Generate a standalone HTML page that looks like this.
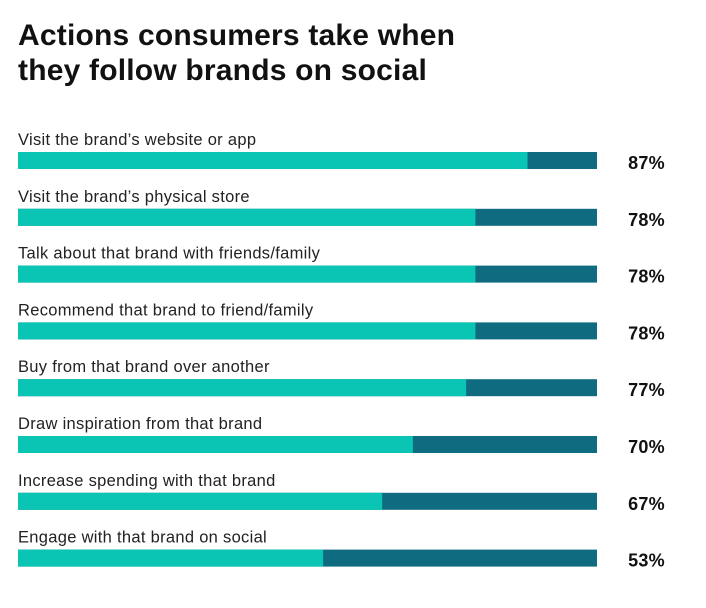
<!DOCTYPE html>
<html><head><meta charset="utf-8"><style>
body{margin:0;background:#fff;width:706px;height:608px;overflow:hidden;font-family:"Liberation Sans",sans-serif;color:#1e1e1e}
h1{position:absolute;left:18px;top:18px;margin:0;font-size:30px;line-height:35px;font-weight:bold;letter-spacing:0.2px;color:#111}
</style></head><body>
<h1>Actions consumers take when<br>they follow brands on social</h1>
<svg id="chart" width="706" height="608" style="position:absolute;left:0;top:0"></svg>
<script>
const categories=["Visit the brand’s website or app","Visit the brand’s physical store","Talk about that brand with friends/family","Recommend that brand to friend/family","Buy from that brand over another","Draw inspiration from that brand","Increase spending with that brand","Engage with that brand on social"];
const values=[87,78,78,78,77,70,67,53];
const fillShares=[88,79,79,79,77.4,68.2,62.9,52.7];
const valueLabels=["87%","78%","78%","78%","77%","70%","67%","53%"];
const svg=document.getElementById('chart');
const NS='http://www.w3.org/2000/svg';
const x0=18,x1=597;
const xs=v=>x0+(x1-x0)*v/100;
const yRow=i=>152+i*56.8;
function mk(t,a){const e=document.createElementNS(NS,t);for(const k in a)e.setAttribute(k,a[k]);svg.appendChild(e);return e;}
categories.forEach((c,i)=>{
  const y=yRow(i);
  const l=mk('text',{x:x0,y:y-7,'font-size':16.5,fill:'#222','letter-spacing':'0.3'});l.textContent=c;
  
  
  const bg=mk('rect',{x:x0,y:y,width:x1-x0,height:17,fill:'#0f6b80'});
  
  
  const b=mk('rect',{x:x0,y:y,width:xs(fillShares[i])-x0,height:17,fill:'#0bc5b4'});
  
  
  const v=mk('text',{x:665,y:y+17,'font-size':18,'font-weight':'bold','text-anchor':'end',fill:'#111','letter-spacing':'0.3'});v.textContent=valueLabels[i];
  
  
});
</script>
</body></html>
